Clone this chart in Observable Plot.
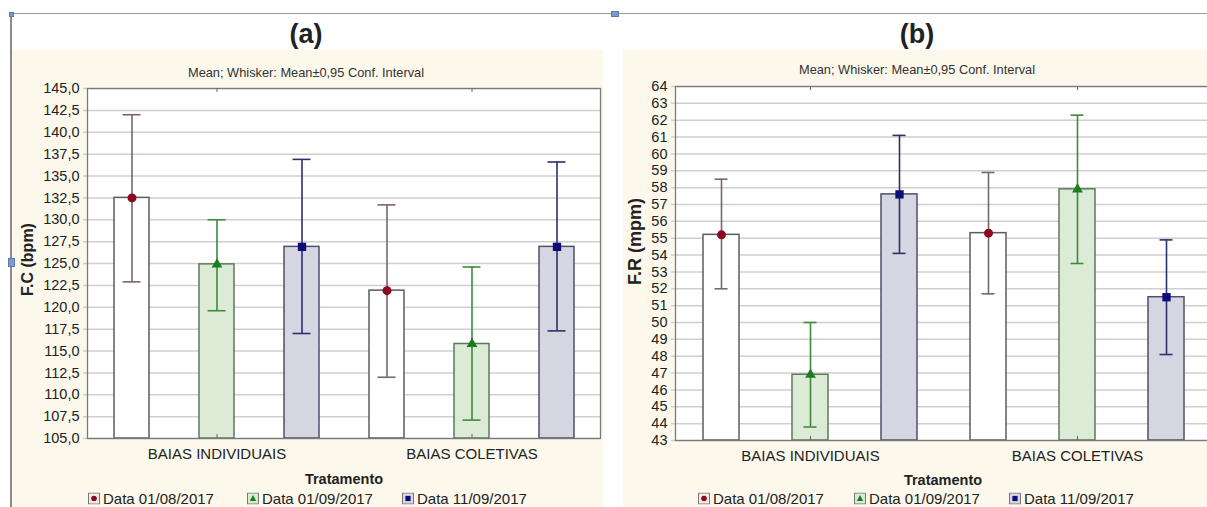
<!DOCTYPE html>
<html>
<head>
<meta charset="utf-8">
<script src="https://cdn.jsdelivr.net/npm/d3@7"></script>
<script src="https://cdn.jsdelivr.net/npm/@observablehq/plot@0.6"></script>
<style>
  html, body { margin: 0; padding: 0; }
  body { width: 1207px; height: 507px; overflow: hidden; position: relative; background: #ffffff;
         font-family: "Liberation Sans", Arial, sans-serif; color: #222; }
  .abs { position: absolute; }
  .panel { background: #fcf8ec; }
  .title { font-weight: bold; font-size: 27px; transform: translate(-50%, -50%); white-space: nowrap; }
  .sub { font-size: 12.8px; transform: translate(-50%, -50%); white-space: nowrap; color: #333; }
  .xlab { font-weight: bold; font-size: 14.5px; transform: translate(-50%, -50%); white-space: nowrap; }
  .leg { font-size: 15px; display: flex; align-items: center; gap: 3px; transform: translateY(-50%); white-space: nowrap; }
  .handle { background: #7b9bd1; border: 1px solid #5b78b0; }
  .chart svg { max-width: none !important; }
</style>
</head>
<body>
<script>
// ---------- data ----------
const groups = ["BAIAS INDIVIDUAIS", "BAIAS COLETIVAS"];
const dates = ["Data 01/08/2017", "Data 01/09/2017", "Data 11/09/2017"];

// (a) F.C (bpm): mean, lower and upper 95% CI, order = groups x dates
const fcMean = [132.5, 124.9, 126.9, 121.9, 115.8, 126.9];
const fcLow  = [122.9, 119.6, 117.0, 112.0, 107.1, 117.3];
const fcHigh = [142.0, 130.0, 136.9, 131.7, 124.6, 136.6];
const fcDomain = [105, 145];
const fcTicks = [105, 107.5, 110, 112.5, 115, 117.5, 120, 122.5, 125, 127.5, 130, 132.5, 135, 137.5, 140, 142.5, 145];

// (b) F.R (mpm)
const frMean = [55.2, 46.9, 57.6, 55.3, 57.9, 51.5];
const frLow  = [52.0, 43.8, 54.1, 51.7, 53.5, 48.1];
const frHigh = [58.5, 50.0, 61.1, 58.9, 62.3, 54.9];
const frDomain = [43, 64];
const frTicks = [43, 44, 45, 46, 47, 48, 49, 50, 51, 52, 53, 54, 55, 56, 57, 58, 59, 60, 61, 62, 63, 64];

const subtitle = "Mean; Whisker: Mean\u00b10,95 Conf. Interval";
const xTitle = "Tratamento";

// ---------- styles ----------
const seriesFill = ["#ffffff", "#dcebd6", "#d6d6e3"];
const seriesStroke = ["#5c5c5c", "#5d7a5d", "#4f4f6a"];
const whiskerColor = ["#7a6666", "#3f8a3f", "#2f2f6b"];
const markerColor = ["#8b0a1e", "#1d7d1d", "#0d0d7a"];
const markerSymbol = ["circle", "triangle", "square"];
const markerR = [4.5, 4.0, 4.7];

function rowsFor(mean, low, high) {
  const rows = [];
  groups.forEach((g, gi) => dates.forEach((d, di) => {
    const i = gi * dates.length + di;
    rows.push({key: g + "|" + d, group: g, date: d, s: di, mean: mean[i], low: low[i], high: high[i]});
  }));
  return rows;
}

function makeChart(cfg) {
  const rows = rowsFor(cfg.mean, cfg.low, cfg.high);
  const keys = rows.map(r => r.key);
  const midKeys = groups.map(g => g + "|" + dates[1]);
  const frameH = cfg.height - cfg.marginTop - cfg.marginBottom;
  const marks = [
    Plot.frame({fill: "white", stroke: null}),
    Plot.gridY(cfg.ticks, {stroke: "#cfcfcf", strokeOpacity: 1, strokeWidth: 1.5, insetLeft: -4}),
    Plot.axisY({ticks: cfg.ticks, tickFormat: cfg.tickFormat, tickSize: 0, tickPadding: 8,
                fontSize: cfg.tickFont, label: null}),
    Plot.barY(rows, {x: "key", y1: cfg.domain[0], y2: "mean",
                     fill: d => seriesFill[d.s], stroke: d => seriesStroke[d.s], strokeWidth: 1.5}),
    Plot.ruleX(rows, {x: "key", y1: "low", y2: "high", stroke: d => whiskerColor[d.s], strokeWidth: 1.6}),
    Plot.tickY(rows, {x: "key", y: "low", stroke: d => whiskerColor[d.s], strokeWidth: 1.6, inset: cfg.capInset}),
    Plot.tickY(rows, {x: "key", y: "high", stroke: d => whiskerColor[d.s], strokeWidth: 1.6, inset: cfg.capInset}),
    ...[0, 1, 2].map(s => Plot.dot(rows.filter(r => r.s === s), {
      x: "key", y: "mean", symbol: markerSymbol[s], r: markerR[s], fill: markerColor[s], stroke: null})),
    Plot.frame({stroke: "#7a7a7a", strokeWidth: 1.3}),
    Plot.tickX(midKeys, {x: d => d, stroke: "#666", insetBottom: frameH - 4}),
    Plot.tickX(midKeys, {x: d => d, stroke: "#666", insetTop: frameH - 4}),
    Plot.axisX({ticks: midKeys, tickFormat: k => k.split("|")[0], tickSize: 0, tickPadding: 10,
                fontSize: 15, label: null}),
    Plot.text([cfg.yLabel], {text: d => d, frameAnchor: "left", textAnchor: "middle",
                dx: cfg.yLabelDx, dy: cfg.yLabelDy, rotate: -90,
                fontSize: cfg.yLabelFont, fontWeight: "bold", fill: "#222"})
  ];
  return Plot.plot({
    width: cfg.width, height: cfg.height,
    marginTop: cfg.marginTop, marginBottom: cfg.marginBottom,
    marginLeft: cfg.marginLeft, marginRight: cfg.marginRight,
    style: {background: "transparent", overflow: "visible", maxWidth: "none",
            fontFamily: "'Liberation Sans', Arial, sans-serif", color: "#222"},
    x: {type: "band", domain: keys, paddingInner: cfg.pi, paddingOuter: cfg.pi / 2, axis: null},
    y: {domain: cfg.domain, axis: null},
    color: {type: "identity"},
    marks
  });
}

function el(cls, style, html) {
  const d = document.createElement("div");
  d.className = cls;
  Object.assign(d.style, style);
  if (html != null) d.innerHTML = html;
  document.body.appendChild(d);
  return d;
}

function swatch(s) {
  const shape = s === 0 ? '<circle cx="6" cy="6" r="2.8" fill="' + markerColor[0] + '"/>'
    : s === 1 ? '<path d="M6,2.6 L9.2,8.6 L2.8,8.6 Z" fill="' + markerColor[1] + '"/>'
    : '<rect x="3.4" y="3.4" width="5.2" height="5.2" fill="' + markerColor[2] + '"/>';
  const bg = s === 0 ? "#f7e9e9" : s === 1 ? "#d8ecd4" : "#d8d8ea";
  return '<svg width="12" height="12"><rect x="0.5" y="0.5" width="11" height="11" fill="' + bg +
    '" stroke="#777"/>' + shape + '</svg>';
}

// frame lines and panels
el("abs", {left: "10px", top: "13px", width: "1197px", height: "1px", background: "#9a9a9a"});
el("abs", {left: "10px", top: "13px", width: "2px", height: "494px", background: "#8a8a8a"});
el("abs panel", {left: "12px", top: "50px", width: "591px", height: "457px"});
el("abs panel", {left: "623px", top: "50px", width: "584px", height: "457px"});
el("abs handle", {left: "8px", top: "258px", width: "5px", height: "7px"});
el("abs handle", {left: "611px", top: "11px", width: "6px", height: "4px"});
el("abs handle", {left: "9px", top: "12px", width: "3px", height: "3px"});

// titles
el("abs title", {left: "306px", top: "34px"}, "(a)");
el("abs title", {left: "917px", top: "34px"}, "(b)");
el("abs sub", {left: "306px", top: "72px"}, subtitle);
el("abs sub", {left: "917px", top: "69px"}, subtitle);

// charts
const left = el("abs chart", {left: "0px", top: "0px", width: "605px", height: "470px"});
left.appendChild(makeChart({
  width: 605, height: 470, marginTop: 88, marginBottom: 32, marginLeft: 87, marginRight: 5,
  mean: fcMean, low: fcLow, high: fcHigh, domain: fcDomain, ticks: fcTicks,
  tickFormat: d => d.toFixed(1).replace(".", ","), tickFont: 14.5,
  pi: 0.591, capInset: 8.5, yLabel: "F.C (bpm)", yLabelDx: -60, yLabelDy: -4, yLabelFont: 16
}));

const right = el("abs chart", {left: "615px", top: "0px", width: "598px", height: "470px"});
right.appendChild(makeChart({
  width: 598, height: 470, marginTop: 86, marginBottom: 30, marginLeft: 60, marginRight: 1.4,
  mean: frMean, low: frLow, high: frHigh, domain: frDomain, ticks: frTicks,
  tickFormat: d => String(d), tickFont: 14.5,
  pi: 0.597, capInset: 11.5, yLabel: "F.R (mpm)", yLabelDx: -40, yLabelDy: -22, yLabelFont: 18
}));

// x titles
el("abs xlab", {left: "344px", top: "479px"}, xTitle);
el("abs xlab", {left: "943px", top: "480px"}, xTitle);

// legends
const legLeft = [88, 247, 402];
const legRight = [698, 854, 1009];
[legLeft, legRight].forEach(xs => xs.forEach((x, s) => {
  el("abs leg", {left: x + "px", top: "498px"}, swatch(s) + "<span>" + dates[s] + "</span>");
}));
</script>
</body>
</html>
